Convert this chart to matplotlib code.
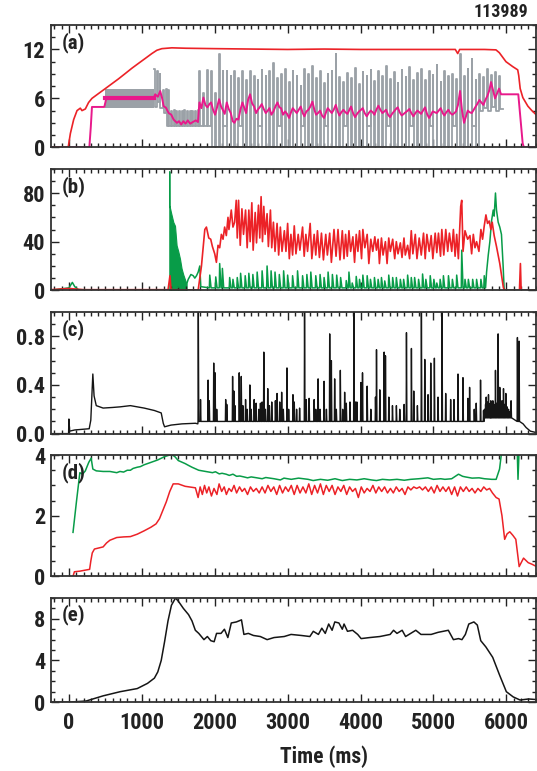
import numpy as np
import matplotlib
matplotlib.use('Agg')
import matplotlib.pyplot as plt
from matplotlib import font_manager as fm
from matplotlib.ticker import MultipleLocator, FormatStrFormatter


def pick_font(names):
    for n in names:
        try:
            fm.findfont(fm.FontProperties(family=n, weight='bold'), fallback_to_default=False)
            return n
        except ValueError:
            pass
    return 'DejaVu Sans'


FONT = pick_font(['Liberation Sans Narrow', 'Roboto Condensed', 'Open Sans Condensed',
                  'Liberation Sans'])
plt.rcParams['font.family'] = [FONT, 'DejaVu Sans']
plt.rcParams['font.weight'] = 'bold'

RED = '#ec2227'
MAG = '#e8198b'
GRAY = '#9ba1a7'
GREEN = '#089c48'
BLACK = '#151515'

# ---------------- (a) ----------------
a_red_t = [-250, -10, 20, 65, 111, 156, 179, 225, 270, 316, 407, 499, 590, 681, 773, 864,
           955, 1047, 1138, 1206, 1275, 1412, 1600, 2000, 2500, 3000, 3500, 4000, 4500,
           5000, 5300, 5333, 5360, 5700, 5858, 5904, 5995, 6087, 6156, 6170, 6190, 6226,
           6295, 6350, 6409]
a_red_v = [0, 0, 1.7, 3.4, 4.5, 4.8, 4.5, 4.7, 5.5, 6.0, 6.6, 7.2, 7.8, 8.4, 9.05, 9.7,
           10.3, 10.9, 11.5, 11.9, 12.1, 12.2, 12.15, 12.1, 12.05, 12.0, 12.05, 12.0, 12.0,
           12.0, 12.0, 11.5, 12.0, 12.0, 11.95, 11.6, 10.5, 9.9, 9.5, 8.8, 7.2, 6.1,
           5.05, 4.5, 4.0]

# shaded gray band before the ELMs
a_band_t = [499, 1170]
a_band_lo = [4.8, 4.8]
a_band_hi = [7.2, 7.2]

# gray switching signal, transition phase (high, low pairs)
a_gray_pre_t = [1170, 1205, 1245, 1290, 1330, 1365, 1400, 1440, 1475, 1510, 1550, 1585,
                1620, 1660, 1695, 1730, 1770]
a_gray_pre_hi = [9.6, 9.3, 9.0, 7.0, 7.2, 7.0, 4.5, 4.6, 4.5, 4.4, 4.5, 4.6, 4.5, 4.5,
                 4.4, 4.5, 4.6]
a_gray_pre_lo = [5.0, 5.5, 4.8, 4.2, 2.6, 2.6, 2.6, 2.6, 2.6, 2.6, 2.6, 2.6, 2.6, 2.6,
                 2.6, 2.6, 2.6]

# gray switching signal, ELM phase (one high/low pair per cycle)
a_gray_t = [1790, 1845, 1900, 1950, 2005, 2060, 2110, 2165, 2220, 2270,
            2325, 2380, 2430, 2485, 2540, 2590, 2645, 2700, 2750, 2805,
            2860, 2910, 2965, 3020, 3070, 3125, 3180, 3230, 3285, 3340,
            3390, 3445, 3500, 3550, 3605, 3660, 3710, 3765, 3820, 3870,
            3925, 3980, 4030, 4085, 4140, 4190, 4245, 4300, 4350, 4405,
            4460, 4510, 4565, 4620, 4670, 4725, 4780, 4830, 4885, 4940,
            4990, 5045, 5100, 5150, 5205, 5260, 5310, 5365, 5420, 5470,
            5525, 5580, 5630, 5685, 5740, 5790, 5845, 5900]
a_gray_hi = [9.3, 6.7, 9.5, 9.3, 6.7, 11.4, 9.3, 9.3, 8.8, 9.3,
             8.5, 9.3, 8.2, 9.3, 8.8, 8.2, 9.5, 8.8, 9.3, 10.3,
             8.5, 9.0, 9.6, 8.0, 9.3, 8.8, 7.5, 9.6, 9.0, 10.0,
             8.5, 9.3, 7.9, 9.0, 9.4, 11.4, 8.6, 8.0, 9.1, 8.5,
             9.7, 7.8, 9.2, 8.8, 9.5, 8.1, 9.3, 8.7, 10.0, 8.4,
             9.2, 7.9, 9.5, 8.6, 9.8, 8.3, 9.1, 9.6, 8.2, 9.4,
             8.9, 10.1, 8.0, 9.3, 8.7, 9.0, 8.4, 11.5, 8.8, 9.6,
             10.8, 8.3, 9.0, 8.6, 9.6, 8.9, 9.2, 8.8]
a_gray_lo = [2.6, 2.6, 2.6, 0, 0, 0, 2.6, 0, 0, 0,
             2.6, 0, 0, 0, 0, 2.6, 0, 0, 0, 0,
             2.6, 0, 0, 0, 0, 0, 2.6, 0, 0, 0,
             0, 0, 2.6, 0, 0, 0, 0, 2.6, 0, 0,
             0, 0, 0, 2.6, 0, 0, 0, 0, 2.6, 0,
             0, 0, 0, 0, 2.6, 0, 0, 0, 0, 2.6,
             0, 0, 0, 0, 0, 2.6, 0, 0, 0, 0,
             2.6, 0, 4.5, 4.8, 4.5, 5.0, 4.5, 4.7]

a_mag_pre_t = [-250, 280, 300, 316, 485, 500, 512, 1161, 1183, 1220, 1252, 1276, 1299,
               1331, 1368, 1404, 1436, 1482, 1510, 1540, 1570, 1600, 1630, 1663, 1700,
               1740, 1770]
a_mag_pre_v = [0, 0, 2.5, 4.95, 4.95, 5.5, 6.0, 6.0, 6.5, 6.2, 6.9, 6.1, 5.05, 4.85, 4.2,
               4.0, 3.4, 3.0, 3.2, 2.8, 3.2, 2.9, 3.3, 2.9, 3.1, 3.3, 3.1]
# magenta at the cycle times and half a cycle later
a_mag_v = [5.5, 6.1, 4.9, 5.5, 4.0, 5.9, 4.6, 5.5, 4.2, 3.0,
           3.4, 5.5, 4.2, 6.5, 5.0, 4.6, 5.3, 4.2, 4.8, 4.4,
           5.5, 4.8, 4.4, 3.6, 4.8, 4.2, 5.0, 3.8, 4.6, 5.6,
           4.0, 4.5, 3.6, 4.8, 4.2, 5.2, 3.9, 4.6, 4.1, 5.0,
           3.7, 4.4, 4.8, 3.8, 4.5, 4.0, 5.1, 4.2, 4.6, 3.7,
           4.4, 4.9, 3.9, 4.3, 4.7, 3.8, 4.5, 4.1, 4.9, 3.6,
           4.4, 4.2, 4.8, 3.9, 4.6, 4.0, 4.4, 6.9, 3.0, 4.5,
           4.2, 5.0, 5.8, 5.2, 6.3, 8.0, 6.0, 7.2]
a_mag_mid = [4.8, 5.2, 5.3, 4.6, 4.9, 5.0, 4.1, 4.7, 3.2, 3.5,
             4.6, 4.8, 5.8, 5.4, 4.2, 4.9, 4.7, 4.5, 4.0, 5.0,
             4.9, 4.0, 4.1, 4.3, 4.5, 4.6, 4.2, 4.4, 5.0, 4.6,
             4.2, 3.9, 4.3, 4.5, 4.6, 4.4, 4.3, 4.3, 4.6, 4.2,
             4.1, 4.6, 4.2, 4.2, 4.3, 4.6, 4.6, 4.4, 4.0, 4.1,
             4.7, 4.3, 4.1, 4.5, 4.2, 4.2, 4.3, 4.5, 4.1, 4.0,
             4.3, 4.5, 4.2, 4.3, 4.2, 4.2, 5.2, 4.5, 3.8, 4.3,
             4.6, 5.4, 5.5, 5.8, 7.0, 7.0, 6.6, 6.5]
a_mag_post_t = [5950, 6164, 6224, 6240, 6400]
a_mag_post_v = [6.5, 6.5, 0.5, 0, 0]

# ---------------- (b) ----------------
b_red_t = [-250, 0, 100, 200, 1360, 1386, 1400, 1773, 1818, 1864, 1886, 1918, 1945, 1968,
           2000, 2023, 2045, 2068, 2091, 2114, 2136, 2159, 2182, 2195, 2227, 2250, 2273,
           2295, 2309, 2327, 2350, 2373, 2395, 2423, 2445, 2468, 2486, 2509, 2527, 2555,
           2573, 2600, 2618, 2636, 2655, 2673, 2691, 2718, 2736, 2764, 2782, 2805, 2827,
           2855, 2877, 2900, 2923, 2955, 2977, 3000, 3023, 3045, 3068, 3091, 3114, 3145,
           3168, 3205, 3227, 3250, 3273, 3309, 3332, 3364, 3386, 3409, 3436, 3464, 3491,
           3523, 3545, 3577, 3600, 3636, 3664, 3691, 3718, 3750, 3773, 3795, 3818, 3841,
           3864, 3895, 3918, 3941, 3964, 3986, 4014, 4032, 4059, 4091, 4114, 4141, 4168,
           4196, 4218, 4241, 4259, 4287, 4309, 4341, 4364, 4387, 4409, 4441, 4469, 4491,
           4514, 4546, 4569, 4596, 4614, 4646, 4673, 4696, 4718, 4751, 4774, 4805, 4833,
           4864, 4887, 4910, 4942, 4969, 4992, 5024, 5046, 5069, 5097, 5115, 5142, 5169,
           5196, 5219, 5251, 5274, 5297, 5319, 5342, 5374, 5388, 5406, 5433, 5469, 5501,
           5524, 5547, 5570, 5592, 5624, 5651, 5674, 5697, 5720, 5742, 5765, 5788, 5806,
           5833, 5865, 5888, 5910, 5933, 5960, 5979, 6180, 6193, 6203, 6400]
b_red_v = [0.5, 1.5, 1.0, 0.5, 0.5, 12, 0.5, 0.3, 20, 50, 52, 43, 42, 36,
           30, 23, 37, 35, 46, 42, 52, 45, 60, 50, 66, 52, 56,
           74, 43, 74, 37, 67, 46, 66, 35, 66, 40, 72, 33, 64,
           39, 70, 43, 77, 40, 69, 46, 63, 36, 66, 35, 56, 32,
           55, 29, 52, 32, 49, 32, 55, 26, 46, 29, 53, 30, 46,
           33, 52, 28, 46, 32, 55, 26, 46, 29, 49, 27, 47, 25,
           46, 29, 47, 23, 50, 28, 50, 25, 49, 26, 46, 28, 49,
           32, 44, 23, 46, 32, 49, 26, 50, 35, 46, 22, 42, 32,
           44, 33, 42, 22, 43, 29, 40, 22, 43, 32, 42, 26, 40,
           30, 39, 27, 43, 29, 37, 26, 49, 30, 46, 26, 43, 29,
           47, 26, 46, 32, 45, 26, 47, 31, 47, 28, 50, 29, 50,
           32, 47, 32, 50, 28, 46, 26, 69, 74, 32, 49, 42, 45,
           30, 46, 35, 40, 32, 50, 42, 53, 62, 55, 57, 50, 56,
           45, 36, 29, 22, 13, 2, 0, 0, 22, 0, 0]

b_grn_pre_t = [-250, 0, 47, 80, 130, 1370]
b_grn_pre_v = [0, 2, 6.5, 3, 0.5, 0]
# dense burst after the L-H transition (drawn filled)
b_burst_t = [1377, 1378, 1400, 1432, 1455, 1477, 1500, 1523, 1545, 1568, 1591, 1614]
b_burst_v = [98, 70, 64, 56, 53, 37, 32, 26, 18, 13, 9, 5]
b_grn_mid_t = [1614, 1636, 1673, 1705, 1727, 1750, 1773, 1795, 1809]
b_grn_mid_v = [5, 9, 13, 12, 10, 12, 15, 20, 3]
b_grn_spk_t = [1932, 2014, 2068, 2105, 2205, 2250, 2309, 2355, 2418, 2468, 2523, 2582,
               2650, 2718, 2773, 2827, 2886, 2945, 3000, 3068, 3136, 3205, 3264, 3318,
               3386, 3445, 3500, 3555, 3614, 3673, 3727, 3804, 3841, 3886, 3941, 3986,
               4032, 4091, 4136, 4191, 4241, 4287, 4332, 4387, 4441, 4491, 4546, 4591,
               4646, 4696, 4742, 4796, 4851, 4896, 4956, 5006, 5046, 5092, 5137, 5206,
               5260, 5319, 5388, 5433, 5479, 5538, 5592, 5651, 5697]
b_grn_spk_v = [12.5, 11, 22, 18, 10.5, 9, 10.5, 14, 12, 14, 13, 15,
               16, 20, 16, 15, 13, 16, 12.5, 12, 16, 12, 13, 15,
               12, 13, 10.5, 15, 13, 12.5, 10.5, 8, 15, 6, 11.4, 9,
               12.5, 12, 9, 10.5, 9, 10.5, 7.7, 12.5, 10.5, 10.5, 9, 9,
               12.5, 10.5, 10.5, 9, 13.4, 9, 12, 9, 6, 9, 12, 12,
               9, 12.5, 33, 9, 9, 9, 9, 9, 12]
b_grn_end_t = [5729, 5752, 5774, 5797, 5820, 5833, 5851, 5865, 5888, 5910, 5933, 5956,
               5969, 5979, 6400]
b_grn_end_v = [15, 29, 40, 57, 66, 61, 80, 66, 56, 52, 46, 20, 2, 0, 0]

# ---------------- (c) ----------------
c_pre_t = [-250, -5, 0, 8, 80, 180, 278, 300, 328, 345, 375, 469, 600, 703, 843, 1031,
           1172, 1266, 1294, 1312, 1400, 1550, 1735, 1768]
c_pre_v = [0.0, 0.0, 0.12, 0.02, 0.03, 0.035, 0.04, 0.11, 0.49, 0.31, 0.23, 0.21, 0.215,
           0.22, 0.23, 0.21, 0.19, 0.17, 0.085, 0.056, 0.07, 0.08, 0.085, 0.08]
c_spk_t = [1775, 1805, 1909, 1925, 1986, 2005, 2027, 2150, 2165, 2245, 2263, 2277, 2336,
           2364, 2386, 2423, 2445, 2482, 2500, 2541, 2568, 2605, 2627, 2650, 2673, 2695,
           2727, 2750, 2782, 2832, 2855, 2891, 2918, 2941, 2991, 3014, 3073, 3091, 3123,
           3164, 3232, 3255, 3295, 3364, 3386, 3418, 3445, 3500, 3532, 3577, 3600, 3645,
           3668, 3723, 3755, 3782, 3805, 3855, 3909, 3932, 3950, 4004, 4027, 4091, 4141,
           4205, 4219, 4264, 4324, 4342, 4388, 4438, 4492, 4538, 4598, 4630, 4698, 4730,
           4780, 4835, 4881, 4926, 4963, 5013, 5063, 5118, 5168, 5236, 5282, 5337, 5405,
           5473, 5496, 5560, 5587, 5646, 5687, 5700, 5715, 5724, 5735, 5745, 5755, 5767,
           5780, 5787, 5800, 5815, 5830, 5851, 5870, 5887, 5910, 5925, 5940, 5961, 5975,
           5993, 6010, 6030, 6050, 6065, 6152, 6175]
c_spk_v = [1.0, 0.28, 0.44, 0.27, 0.58, 0.50, 0.2, 0.28, 0.24, 0.47, 0.35, 0.23, 0.50,
           0.47, 0.23, 0.28, 0.2, 0.40, 0.2, 0.28, 0.25, 0.2, 0.25, 0.26, 0.67, 0.2,
           0.37, 0.23, 0.26, 0.27, 0.33, 0.26, 0.34, 0.2, 0.54, 0.2, 0.32, 0.26, 0.2,
           0.21, 1.0, 0.28, 0.29, 0.28, 0.2, 0.45, 0.2, 0.43, 0.2, 0.82, 0.60, 0.45,
           0.2, 0.52, 0.2, 0.34, 0.25, 0.26, 1.0, 0.26, 0.26, 0.42, 0.50, 0.39, 0.2,
           0.30, 0.69, 0.36, 0.67, 0.64, 0.30, 0.23, 0.23, 0.2, 0.24, 0.83, 0.70, 0.35,
           0.23, 1.0, 0.61, 0.32, 0.58, 0.62, 0.30, 1.0, 0.33, 0.28, 0.28, 0.49, 0.46,
           0.29, 0.38, 0.2, 0.25, 0.44, 0.19, 0.2, 0.24, 0.30, 0.22, 0.26, 0.32, 0.23,
           0.25, 0.27, 0.22, 0.27, 0.24, 0.52, 0.25, 0.82, 0.38, 0.23, 0.27, 0.37, 0.24,
           0.33, 0.22, 0.2, 0.18, 0.27, 0.79, 0.76]
c_post_t = [6230, 6271, 6330, 6400]
c_post_v = [0.08, 0.05, 0.02, 0.01]

# ---------------- (d) ----------------
d_red_t = [56, 75, 150, 284, 300, 320, 350, 469, 516, 562, 656, 750, 843, 937, 1031,
           1125, 1195, 1242, 1289, 1336, 1383, 1430, 1500, 1594, 1735, 1772, 1800,
           1830, 1860, 1890, 1920, 1955, 1990, 2030, 2060, 2095, 2130, 2160, 2195, 2230,
           2265, 2300, 2340, 2375, 2410, 2450, 2490, 2530, 2570, 2610, 2650, 2690, 2730,
           2770, 2810, 2850, 2890, 2930, 2970, 3010, 3050, 3090, 3130, 3170, 3210, 3250,
           3290, 3330, 3370, 3410, 3450, 3490, 3530, 3570, 3610, 3650, 3690, 3730, 3770,
           3810, 3850, 3890, 3930, 3970, 4010, 4050, 4090, 4130, 4170, 4210, 4250, 4290,
           4330, 4370, 4410, 4450, 4490, 4530, 4570, 4610, 4650, 4690, 4730, 4770, 4810,
           4850, 4890, 4930, 4970, 5010, 5050, 5090, 5130, 5170, 5210, 5250, 5290, 5330,
           5370, 5410, 5450, 5490, 5530, 5570, 5610, 5650, 5690, 5730, 5770, 5810, 5860,
           5900, 5940, 5977, 6010, 6047, 6090, 6130, 6176, 6236, 6300, 6350, 6400]
d_red_v = [0.0, 0.15, 0.17, 0.23, 0.5, 0.77, 0.9, 0.97, 1.1, 1.19, 1.28, 1.3, 1.31, 1.39,
           1.5, 1.62, 1.73, 1.9, 2.18, 2.46, 2.8, 3.05, 3.05, 2.97, 2.92, 2.6, 2.95,
           2.7, 3.0, 2.75, 2.95, 2.65, 2.9, 2.7, 3.05, 2.8, 2.95, 2.7, 2.9, 2.8,
           3.0, 2.75, 2.95, 2.8, 2.9, 2.7, 2.95, 2.8, 2.9, 2.75, 2.95, 2.75, 3.0,
           2.8, 2.95, 2.7, 3.0, 2.75, 2.95, 2.8, 3.0, 2.7, 3.0, 2.75, 2.95, 2.75,
           3.05, 2.7, 3.0, 2.75, 3.05, 2.7, 3.0, 2.8, 3.0, 2.7, 2.95, 2.8, 3.0,
           2.7, 2.95, 2.8, 2.9, 2.6, 2.95, 2.75, 2.9, 2.8, 3.0, 2.75, 2.95, 2.8,
           2.95, 2.75, 2.9, 2.75, 2.95, 2.8, 2.9, 2.7, 2.95, 2.85, 2.95, 2.9, 2.95,
           2.85, 2.95, 2.8, 2.95, 2.75, 3.0, 2.8, 2.95, 2.8, 2.95, 2.7, 2.95, 2.65,
           2.95, 2.8, 2.95, 2.8, 2.9, 2.75, 2.9, 2.8, 2.95, 2.85, 2.9, 2.75, 2.6,
           2.55, 2.0, 1.22, 1.4, 1.47, 1.35, 1.22, 0.32, 0.6, 0.45, 0.4, 0.34]
d_grn_t = [56, 103, 150, 187, 225, 272, 305, 328, 375, 469, 562, 656, 700, 750, 800, 843,
           880, 937, 980, 1031, 1125, 1218, 1312, 1406, 1453, 1500, 1594, 1640, 1688,
           1781, 1875, 1969, 2010, 2062, 2100, 2156, 2200, 2250, 2300, 2344, 2400, 2450,
           2500, 2578, 2650, 2700, 2813, 2900, 2950, 3050, 3150, 3281, 3350, 3450, 3550,
           3650, 3750, 3850, 3950, 4050, 4150, 4219, 4300, 4400, 4500, 4600, 4688, 4800,
           4923, 5000, 5100, 5157, 5250, 5344, 5400, 5438, 5530, 5626, 5700, 5800, 5860,
           5907, 5940, 5960, 6140, 6160, 6188, 6400]
d_grn_v = [1.45, 2.46, 3.42, 3.37, 3.48, 3.76, 3.9, 3.54, 3.48, 3.46, 3.46, 3.42, 3.46,
           3.44, 3.5, 3.5, 3.56, 3.6, 3.62, 3.68, 3.76, 3.84, 3.95, 4.02, 3.95, 3.82,
           3.72, 3.66, 3.6, 3.5, 3.46, 3.42, 3.45, 3.38, 3.4, 3.37, 3.33, 3.37, 3.3,
           3.31, 3.28, 3.25, 3.28, 3.25, 3.22, 3.26, 3.22, 3.18, 3.24, 3.2, 3.24, 3.2,
           3.16, 3.2, 3.17, 3.22, 3.16, 3.2, 3.18, 3.22, 3.18, 3.16, 3.2, 3.18, 3.2,
           3.17, 3.2, 3.22, 3.25, 3.2, 3.22, 3.2, 3.22, 3.37, 3.3, 3.28, 3.24, 3.25,
           3.22, 3.2, 3.2, 3.54, 4.2, 5.0, 5.0, 3.2, 5.0, 5.0]

# ---------------- (e) ----------------
e_t = [-250, 0, 234, 469, 703, 937, 1078, 1172, 1219, 1266, 1312, 1359, 1406, 1462, 1500,
       1570, 1641, 1688, 1734, 1781, 1852, 1899, 1946, 1992, 2025, 2086, 2133, 2180, 2227,
       2297, 2367, 2400, 2461, 2531, 2625, 2719, 2813, 2953, 3047, 3188, 3305, 3352, 3422,
       3469, 3516, 3563, 3610, 3647, 3703, 3750, 3774, 3821, 3891, 3961, 4008, 4126, 4266,
       4406, 4453, 4500, 4571, 4618, 4688, 4758, 4829, 4969, 5063, 5204, 5274, 5344, 5391,
       5438, 5485, 5555, 5602, 5649, 5719, 5813, 5907, 6000, 6094, 6188, 6305, 6400]
e_v = [0, 0, 0.1, 0.6, 1.0, 1.3, 1.8, 2.3, 2.9, 4.0, 5.8, 7.8, 9.3, 10.0, 9.7,
       9.0, 8.4, 7.8, 6.9, 6.6, 6.0, 6.3, 5.9, 5.8, 6.6, 6.6, 7.0, 6.2, 7.6,
       7.7, 7.9, 6.5, 6.6, 6.4, 6.3, 6.0, 6.2, 6.3, 6.5, 6.4, 6.3, 6.8, 6.5,
       7.1, 6.6, 7.5, 6.9, 7.7, 7.6, 7.0, 7.5, 6.8, 6.9, 6.5, 6.1, 6.2, 6.3,
       6.5, 6.9, 6.6, 6.9, 6.3, 6.6, 6.9, 6.5, 6.5, 6.7, 6.9, 6.0, 6.1, 6.0,
       6.5, 7.5, 7.7, 7.4, 5.9, 5.3, 4.3, 2.6, 1.0, 0.5, 0.2, 0.3, 0.25]


def spikes(ts, vs, base, before=8, after=20):
    xs, ys = [], []
    for t, v in zip(ts, vs):
        xs += [t - before, t, t + after]
        ys += [base, v, base]
    return xs, ys


W, H = 537, 771
fig = plt.figure(figsize=(W / 100, H / 100), dpi=100)
boxes = [(25, 147.3), (168.7, 290.3), (312, 433.6), (455.1, 576.3), (598, 702.1)]
left, right = 50.7, 535.5
axes = []
for top, bot in boxes:
    axes.append(fig.add_axes([left / W, 1 - bot / H, (right - left) / W, (bot - top) / H]))


def style(ax, ylim, major, minor, label, fmt=None):
    ax.set_xlim(-250, 6400)
    ax.set_ylim(*ylim)
    ax.xaxis.set_major_locator(MultipleLocator(1000))
    ax.xaxis.set_minor_locator(MultipleLocator(100))
    ax.yaxis.set_major_locator(MultipleLocator(major))
    ax.yaxis.set_minor_locator(MultipleLocator(minor))
    ax.tick_params(which='both', direction='in', top=True, right=True, labelsize=16,
                   colors='#222222', width=1.0)
    ax.tick_params(which='major', length=6, pad=4)
    ax.tick_params(which='minor', length=3)
    ax.tick_params(axis='x', labelbottom=False)
    for s in ax.spines.values():
        s.set_linewidth(1.3)
        s.set_color('#333333')
    if fmt:
        ax.yaxis.set_major_formatter(fmt)
    ax.text(0.022, 0.94, label, transform=ax.transAxes, va='top', ha='left',
            fontsize=15, fontweight='bold', color='#222222')


# (a)
ax = axes[0]
ax.fill_between(a_band_t, a_band_lo, a_band_hi, color=GRAY, lw=0)
gx, gy = [], []
for t, hi, lo in zip(a_gray_pre_t + a_gray_t, a_gray_pre_hi + a_gray_hi,
                     a_gray_pre_lo + a_gray_lo):
    gx += [t, t + 10]
    gy += [hi, lo]
gx.append(5950)
gy.append(gy[-1])
ax.step(gx, gy, where='post', color=GRAY, lw=1.3)
mx, my = list(a_mag_pre_t), list(a_mag_pre_v)
for t, v, m in zip(a_gray_t, a_mag_v, a_mag_mid):
    mx += [t, t + 27]
    my += [v, m]
mx += a_mag_post_t
my += a_mag_post_v
ax.plot(mx, my, color=MAG, lw=1.4)
ax.plot([499, 1170], [6.0, 6.0], color=MAG, lw=3.0)
ax.plot(a_red_t, a_red_v, color=RED, lw=1.2)
style(ax, (0, 15), 6, 1.5, '(a)')
ax.text(0.985, 1.03, '113989', transform=ax.transAxes, ha='right', va='bottom',
        fontsize=13, fontweight='bold', color='#222222')

# (b)
ax = axes[1]
ax.fill_between(b_burst_t, 0, b_burst_v, color=GREEN, lw=0.8, edgecolor=GREEN)
sx, sy = spikes(b_grn_spk_t, b_grn_spk_v, 2.0, before=6, after=18)
gx = b_grn_pre_t + b_grn_mid_t + sx + b_grn_end_t
gy = b_grn_pre_v + b_grn_mid_v + sy + b_grn_end_v
ax.plot(gx, gy, color=GREEN, lw=1.1)
ax.plot(b_red_t, b_red_v, color=RED, lw=1.2)
style(ax, (0, 100), 40, 10, '(b)')

# (c)
ax = axes[2]
cx, cy = list(c_pre_t), list(c_pre_v)
for t, v in sorted(zip(c_spk_t, c_spk_v)):
    b = 0.13 if 5690 < t < 6100 else 0.1
    cx += [t - 4, t, t + 6]
    cy += [b, v, b]
cx += c_post_t
cy += c_post_v
ax.plot(cx, cy, color=BLACK, lw=1.0)
style(ax, (0, 1.0), 0.4, 0.1, '(c)', fmt=FormatStrFormatter('%.1f'))

# (d)
ax = axes[3]
ax.plot(d_grn_t, d_grn_v, color=GREEN, lw=1.1)
ax.plot(d_red_t, d_red_v, color=RED, lw=1.1)
style(ax, (0, 4), 2, 0.5, '(d)')

# (e)
ax = axes[4]
ax.plot(e_t, e_v, color=BLACK, lw=1.1)
style(ax, (0, 10), 4, 1, '(e)')
ax.tick_params(axis='x', labelbottom=True, pad=7)

fig.text(323.6 / W, 1 - 757 / H, 'Time (ms)', ha='center', va='center', fontsize=15.5,
         fontweight='bold', color='#222222')

fig.savefig('out.png', dpi=100)
